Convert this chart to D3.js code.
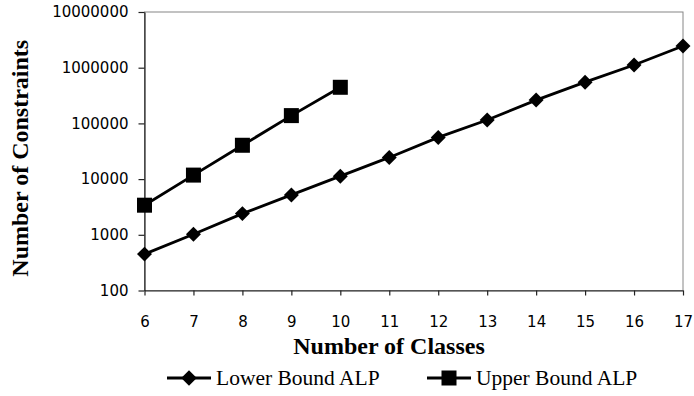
<!DOCTYPE html>
<html><head><meta charset="utf-8">
<script src="https://cdn.jsdelivr.net/npm/d3@7"></script>
<style>body{margin:0;background:#fff}svg{display:block}</style>
</head><body>
<script>
const classes = [6,7,8,9,10,11,12,13,14,15,16,17];
const lowerBound = [450,1020,2400,5200,11300,24500,56000,115000,262000,550000,1120000,2450000];
const upperClasses = [6,7,8,9,10];
const upperBound = [3400,11800,40500,138000,445000];
const yTicks = [100,1000,10000,100000,1000000,10000000];
const seriesNames = ["Lower Bound ALP","Upper Bound ALP"];

const W=694,H=396;
const m={l:144.5,r:683,t:12,b:290.5};
const svg=d3.select("body").append("svg").attr("width",W).attr("height",H);
const x=d3.scaleLinear().domain([6,17]).range([m.l,m.r]);
const y=d3.scaleLog().domain([100,10000000]).range([m.b,m.t]);

// plot border
svg.append("rect").attr("x",m.l).attr("y",m.t).attr("width",m.r-m.l).attr("height",m.b-m.t)
  .attr("fill","none").attr("stroke","#868686").attr("stroke-width",1);

const xa=svg.append("g").attr("transform",`translate(0,${m.b})`)
  .call(d3.axisBottom(x).tickValues(classes).tickFormat(d3.format("d")).tickSizeInner(5).tickSizeOuter(0).tickPadding(21));
const ya=svg.append("g").attr("transform",`translate(${m.l},0)`)
  .call(d3.axisLeft(y).tickValues(yTicks).tickFormat(d3.format("d")).tickSizeInner(6).tickSizeOuter(0).tickPadding(10));
[xa,ya].forEach(a=>{
  a.selectAll("path,line").attr("stroke","#222").attr("stroke-width",1.2);
  a.selectAll("text").attr("font-family","DejaVu Sans").attr("font-size",15).attr("fill","#000");
});

const line=d3.line().x(d=>x(d[0])).y(d=>y(d[1]));
const lowData=classes.map((c,i)=>[c,lowerBound[i]]);
const upData=upperClasses.map((c,i)=>[c,upperBound[i]]);
svg.append("path").datum(lowData).attr("d",line).attr("fill","none").attr("stroke","#000").attr("stroke-width",2.8);
svg.append("path").datum(upData).attr("d",line).attr("fill","none").attr("stroke","#000").attr("stroke-width",2.8);
const dSym=d3.symbol().type(d3.symbolSquare).size(112);
svg.selectAll(".dm").data(lowData).enter().append("path")
  .attr("transform",d=>`translate(${x(d[0])},${y(d[1])}) rotate(45)`)
  .attr("d",dSym).attr("fill","#000");
svg.selectAll(".sq").data(upData).enter().append("rect")
  .attr("x",d=>x(d[0])-7.5).attr("y",d=>y(d[1])-7.5).attr("width",15).attr("height",15).attr("fill","#000");

// axis titles
svg.append("text").attr("x",389).attr("y",354).attr("text-anchor","middle")
  .attr("font-family","Liberation Serif").attr("font-weight","bold").attr("font-size",24).text("Number of Classes");
svg.append("text").attr("transform",`translate(28,${(m.t+m.b)/2+7}) rotate(-90)`).attr("text-anchor","middle")
  .attr("font-family","Liberation Serif").attr("font-weight","bold").attr("font-size",24).text("Number of Constraints");

// legend
const leg=[{x0:167,name:seriesNames[0],type:"d"},{x0:427,name:seriesNames[1],type:"s"}];
const ly=378;
leg.forEach(l=>{
  svg.append("line").attr("x1",l.x0).attr("x2",l.x0+44).attr("y1",ly).attr("y2",ly).attr("stroke","#000").attr("stroke-width",3);
  if(l.type==="d") svg.append("path").attr("transform",`translate(${l.x0+22},${ly}) rotate(45)`).attr("d",d3.symbol().type(d3.symbolSquare).size(120)).attr("fill","#000");
  else svg.append("rect").attr("x",l.x0+14.5).attr("y",ly-7.5).attr("width",15).attr("height",15).attr("fill","#000");
  svg.append("text").attr("x",l.x0+49).attr("y",ly+7).attr("font-family","Liberation Serif").attr("font-size",21.5).text(l.name);
});
</script>
</body></html>
